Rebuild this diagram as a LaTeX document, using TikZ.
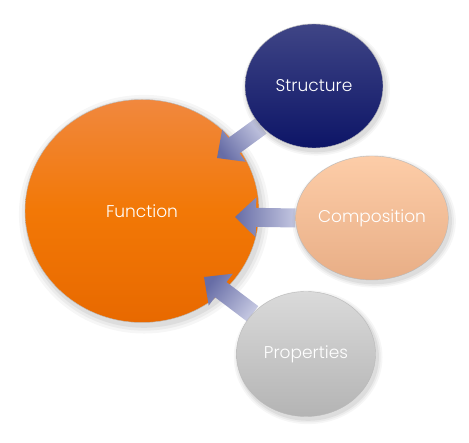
\documentclass[tikz,border=0pt]{standalone}
\usepackage{fontspec}
\setmainfont{Poppins}[UprightFont=* Light]
\usetikzlibrary{calc, shapes.geometric, shadows}
\definecolor{funtop}{HTML}{F1883E}
\definecolor{funmid}{HTML}{F27806}
\definecolor{funbot}{HTML}{E86900}
\definecolor{strtop}{HTML}{3F4586}
\definecolor{strbot}{HTML}{0D1567}
\definecolor{comtop}{HTML}{FDCDA8}
\definecolor{combot}{HTML}{E8AE86}
\definecolor{protop}{HTML}{DADADA}
\definecolor{probot}{HTML}{B4B4B4}
\definecolor{arrowdark}{HTML}{676DA6}
\definecolor{arrowlight}{HTML}{C4C7E1}
\pgfdeclarelayer{back}
\pgfdeclarelayer{middle}
\pgfsetlayers{back,middle,main}
\tikzset{bubble/.style={ellipse, inner sep=0pt, draw=gray!55, line width=0.4pt,
    text=white,
    drop shadow={shadow xshift=2pt, shadow yshift=-3pt, shadow scale=1.07, opacity=0.07},
    drop shadow={shadow xshift=2pt, shadow yshift=-3pt, shadow scale=1.045, opacity=0.09},
    drop shadow={shadow xshift=2pt, shadow yshift=-3pt, shadow scale=1.02, opacity=0.12}}}
% #1 tail, #2 tip, #3 shading angle
\newcommand{\blockarrow}[3]{%
  \coordinate (ab) at ($(#2)!21pt!(#1)$);
  \shade[top color=arrowdark, bottom color=arrowlight, shading angle=#3]
    ($(#1)!9.5pt!90:(#2)$) -- ($(ab)!9.5pt!-90:(#1)$) -- ($(ab)!20pt!-90:(#1)$)
    -- (#2) -- ($(ab)!20pt!90:(#1)$) -- ($(ab)!9.5pt!90:(#1)$)
    -- ($(#1)!9.5pt!-90:(#2)$) -- cycle;}

\begin{document}
\begin{tikzpicture}[x=1pt, y=-1pt, font=\fontsize{17}{20}\selectfont]
  \begin{pgfonlayer}{back}
    \fill[white] (0,0) rectangle (469,443);
    \node[bubble, top color=funtop, bottom color=funbot, middle color=funmid,
          minimum width=234pt, minimum height=223pt] (func) at (142,211) {Function};
  \end{pgfonlayer}
  \useasboundingbox (0,0) rectangle (469,443);

  \node[bubble, top color=strtop, bottom color=strbot,
        minimum width=138pt, minimum height=124pt] (struct) at (314,86) {Structure};
  \node[bubble, top color=comtop, bottom color=combot,
        minimum width=140pt, minimum height=124pt] (comp) at (372,218) {Composition};
  \node[bubble, top color=protop, bottom color=probot,
        minimum width=139pt, minimum height=125pt] (prop) at (306,354) {Properties};

  \coordinate (tipS) at (217,158);
  \coordinate (tipC) at (235,217);
  \coordinate (tipP) at (204,277);
  \begin{pgfonlayer}{middle}
    \blockarrow{struct.217}{tipS}{126}
    \blockarrow{comp.180}{tipC}{90}
    \blockarrow{prop.143}{tipP}{53}
  \end{pgfonlayer}
\end{tikzpicture}
\end{document}
